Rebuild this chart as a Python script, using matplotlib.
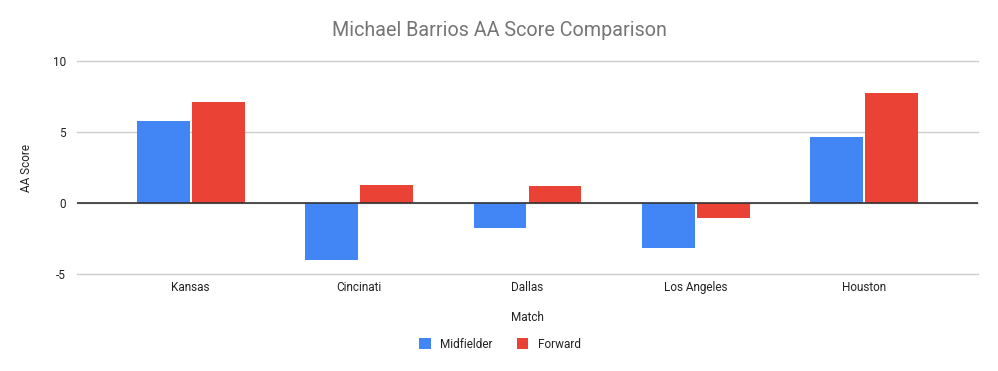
import matplotlib
matplotlib.use("Agg")
import matplotlib.pyplot as plt
import numpy as np

plt.rcParams['font.family'] = ['Roboto', 'DejaVu Sans']

matches = ["Kansas", "Cincinati", "Dallas", "Los Angeles", "Houston"]
midfielder = [5.8, -4.04, -1.79, -3.2, 4.67]
forward = [7.1, 1.29, 1.22, -1.08, 7.77]
yticks = [-5, 0, 5, 10]

fig = plt.figure(figsize=(9.98, 3.71), dpi=100)
ax = fig.add_axes([77/998, (371-274)/371, (978-77)/998, (274-61)/371])

x = np.arange(len(matches))
w = 0.314
gap = 0.006
ax.bar(x - w/2 - gap, midfielder, width=w, color="#4285F4", label="Midfielder", zorder=3)
ax.bar(x + w/2 + gap, forward, width=w, color="#EA4335", label="Forward", zorder=3)

ax.set_xlim(-0.675, 4.675)
ax.set_ylim(-5, 10)
ax.set_yticks(yticks)
ax.set_yticklabels([str(t) for t in yticks])
ax.set_xticks(x)
ax.set_xticklabels(matches)
ax.tick_params(axis='both', length=0, labelsize=8.5, colors="#222222")
ax.tick_params(axis='y', pad=8)
ax.tick_params(axis='x', pad=5)
for s in ax.spines.values():
    s.set_visible(False)
ax.grid(axis='y', color="#cccccc", linewidth=1, zorder=0)
for gl in ax.get_ygridlines():
    gl.set_clip_on(False)
ax.axhline(0, color="#333333", linewidth=1.2, zorder=4)

ax.set_ylabel("AA Score", fontsize=8.5, color="#222222", labelpad=14)
ax.set_xlabel("Match", fontsize=8.5, color="#222222", labelpad=12)
fig.text(0.5, 1 - 31/371, "Michael Barrios AA Score Comparison", ha='center', va='center',
         fontsize=14.2, color="#757575")

leg = fig.legend(loc='center', bbox_to_anchor=(500/998, 1 - 344/371), ncol=2, frameon=False,
                 fontsize=8.5, handlelength=1.0, handleheight=1.0, columnspacing=2.0, handletextpad=0.8)
for t in leg.get_texts():
    t.set_color("#222222")

fig.savefig("out.png", dpi=100)
